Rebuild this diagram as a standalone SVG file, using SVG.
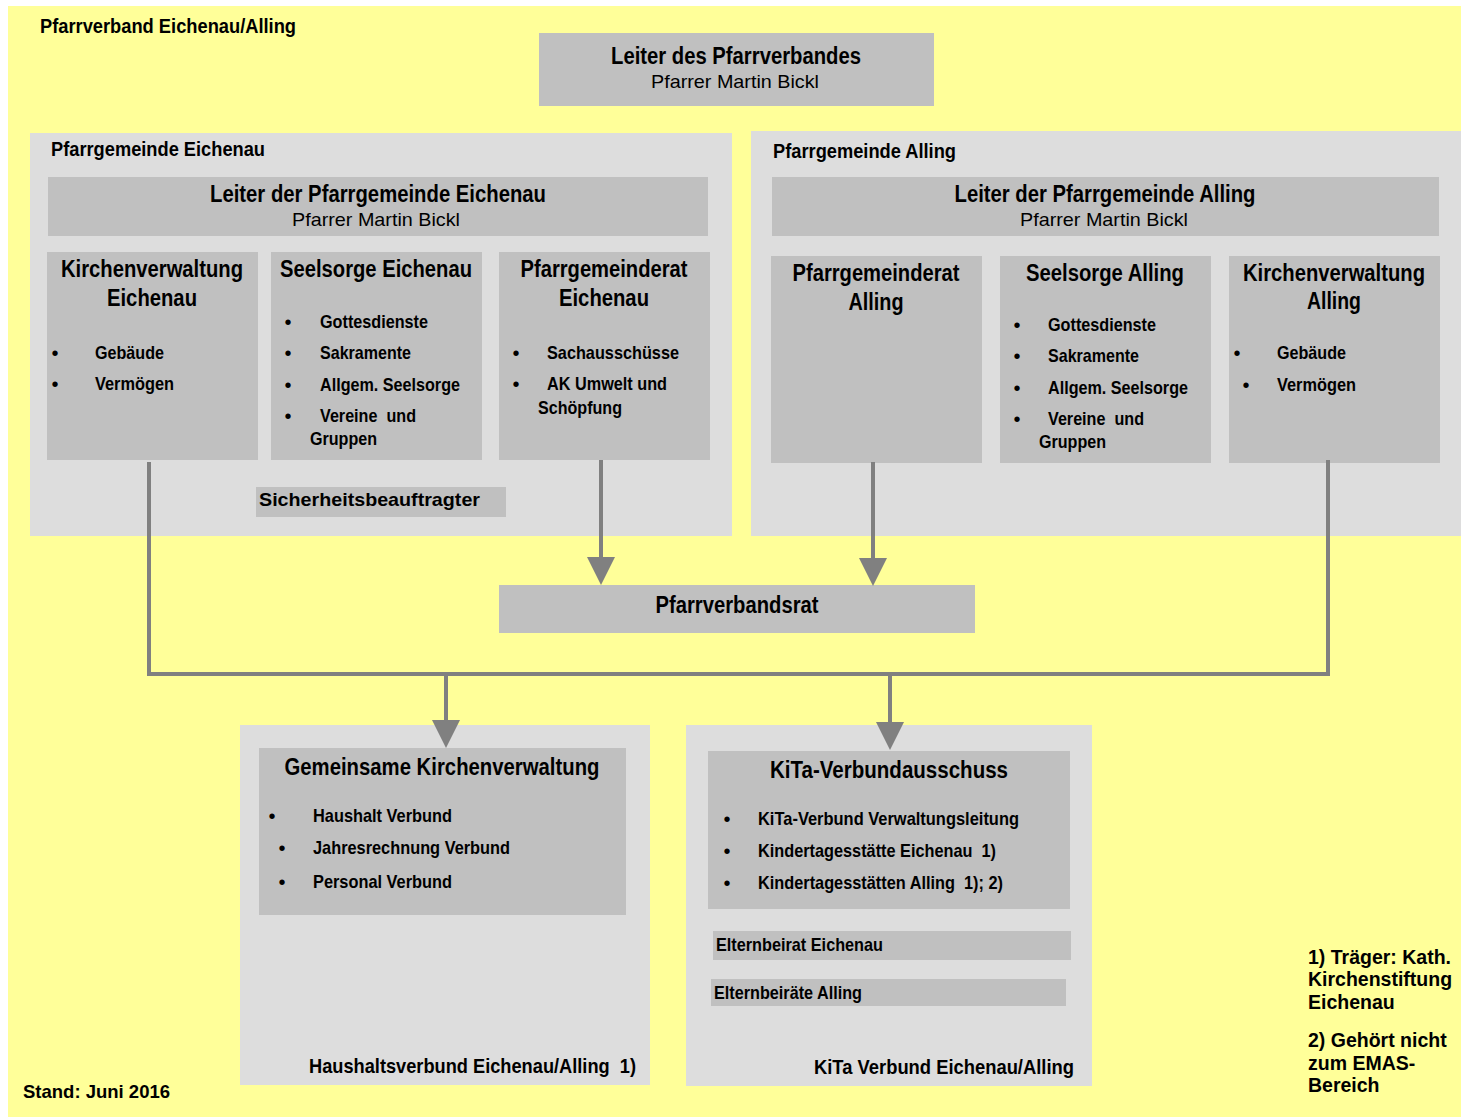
<svg xmlns="http://www.w3.org/2000/svg" width="1461" height="1117" viewBox="0 0 1461 1117">
<defs>
<style>
.bg{fill:#ffff99}
.cont{fill:#dddddd}
.box{fill:#c0c0c0}
text{font-family:"Liberation Sans Narrow","Arial Narrow","Liberation Sans",sans-serif;fill:#000}
.t{font-size:23px;font-weight:bold;text-anchor:middle}
.s{font-size:19px;text-anchor:middle}
.i{font-size:19px;font-weight:bold}
.h{font-size:20px;font-weight:bold}
.f{font-family:"Liberation Sans",Arial,sans-serif;font-size:19.5px;font-weight:bold}
.bl{font-family:"Liberation Sans",Arial,sans-serif;font-size:20px}
.ln{fill:none;stroke:#808080;stroke-width:4}
</style>
<marker id="ah" markerWidth="7" markerHeight="7" refX="0" refY="3.5" orient="auto" markerUnits="strokeWidth"><path d="M0,0 L7,3.5 L0,7 z" fill="#808080"/></marker>
</defs>
<rect class="bg" x="8" y="6" width="1453" height="1111"/>
<text class="h" x="40" y="33" textLength="256" lengthAdjust="spacingAndGlyphs">Pfarrverband Eichenau/Alling</text>

<g id="leiter-verband">
<rect class="box" x="539" y="33" width="395" height="73"/>
<text class="t" x="736" y="64" textLength="250" lengthAdjust="spacingAndGlyphs">Leiter des Pfarrverbandes</text>
<text class="s" x="735" y="88" textLength="168" lengthAdjust="spacingAndGlyphs">Pfarrer Martin Bickl</text>
</g>

<g id="pg-eichenau">
<rect class="cont" x="30" y="133" width="702" height="403"/>
<text class="h" x="51" y="156" textLength="214" lengthAdjust="spacingAndGlyphs">Pfarrgemeinde Eichenau</text>
</g>
<g id="pg-alling">
<rect class="cont" x="751" y="131" width="710" height="405"/>
<text class="h" x="773" y="158" textLength="183" lengthAdjust="spacingAndGlyphs">Pfarrgemeinde Alling</text>
</g>

<g id="leiter-eichenau">
<rect class="box" x="48" y="177" width="660" height="59"/>
<text class="t" x="378" y="202" textLength="336" lengthAdjust="spacingAndGlyphs">Leiter der Pfarrgemeinde Eichenau</text>
<text class="s" x="376" y="226" textLength="168" lengthAdjust="spacingAndGlyphs">Pfarrer Martin Bickl</text>
</g>
<g id="leiter-alling">
<rect class="box" x="772" y="177" width="667" height="59"/>
<text class="t" x="1105" y="202" textLength="301" lengthAdjust="spacingAndGlyphs">Leiter der Pfarrgemeinde Alling</text>
<text class="s" x="1104" y="226" textLength="168" lengthAdjust="spacingAndGlyphs">Pfarrer Martin Bickl</text>
</g>

<g id="kv-eichenau">
<rect class="box" x="47" y="252" width="211" height="208"/>
<text class="t" x="152" y="277" textLength="182" lengthAdjust="spacingAndGlyphs">Kirchenverwaltung</text>
<text class="t" x="152" y="306" textLength="90" lengthAdjust="spacingAndGlyphs">Eichenau</text>
<text class="bl" x="51.5" y="360">•</text><text class="i" x="95" y="359" textLength="69" lengthAdjust="spacingAndGlyphs">Gebäude</text>
<text class="bl" x="51.5" y="391">•</text><text class="i" x="95" y="390" textLength="79" lengthAdjust="spacingAndGlyphs">Vermögen</text>
</g>
<g id="seelsorge-eichenau">
<rect class="box" x="271" y="252" width="211" height="208"/>
<text class="t" x="376" y="277" textLength="192" lengthAdjust="spacingAndGlyphs">Seelsorge Eichenau</text>
<text class="bl" x="284.5" y="329">•</text><text class="i" x="320" y="328" textLength="108" lengthAdjust="spacingAndGlyphs">Gottesdienste</text>
<text class="bl" x="284.5" y="360">•</text><text class="i" x="320" y="359" textLength="91" lengthAdjust="spacingAndGlyphs">Sakramente</text>
<text class="bl" x="284.5" y="392">•</text><text class="i" x="320" y="391" textLength="140" lengthAdjust="spacingAndGlyphs">Allgem. Seelsorge</text>
<text class="bl" x="284.5" y="423">•</text><text class="i" x="320" y="422" textLength="96" lengthAdjust="spacingAndGlyphs" xml:space="preserve">Vereine  und</text>
<text class="i" x="310" y="445" textLength="67" lengthAdjust="spacingAndGlyphs">Gruppen</text>
</g>
<g id="pgr-eichenau">
<rect class="box" x="499" y="252" width="211" height="208"/>
<text class="t" x="604" y="277" textLength="167" lengthAdjust="spacingAndGlyphs">Pfarrgemeinderat</text>
<text class="t" x="604" y="306" textLength="90" lengthAdjust="spacingAndGlyphs">Eichenau</text>
<text class="bl" x="512.5" y="360">•</text><text class="i" x="547" y="359" textLength="132" lengthAdjust="spacingAndGlyphs">Sachausschüsse</text>
<text class="bl" x="512.5" y="391">•</text><text class="i" x="547" y="390" textLength="120" lengthAdjust="spacingAndGlyphs">AK Umwelt und</text>
<text class="i" x="538" y="414" textLength="84" lengthAdjust="spacingAndGlyphs">Schöpfung</text>
</g>
<g id="sicherheit">
<rect class="box" x="256" y="487" width="250" height="30"/>
<text class="i" x="259" y="506" textLength="221" lengthAdjust="spacingAndGlyphs">Sicherheitsbeauftragter</text>
</g>

<g id="pgr-alling">
<rect class="box" x="771" y="256" width="211" height="207"/>
<text class="t" x="876" y="281" textLength="167" lengthAdjust="spacingAndGlyphs">Pfarrgemeinderat</text>
<text class="t" x="876" y="310" textLength="55" lengthAdjust="spacingAndGlyphs">Alling</text>
</g>
<g id="seelsorge-alling">
<rect class="box" x="1000" y="256" width="211" height="207"/>
<text class="t" x="1105" y="281" textLength="158" lengthAdjust="spacingAndGlyphs">Seelsorge Alling</text>
<text class="bl" x="1013.5" y="332">•</text><text class="i" x="1048" y="331" textLength="108" lengthAdjust="spacingAndGlyphs">Gottesdienste</text>
<text class="bl" x="1013.5" y="363">•</text><text class="i" x="1048" y="362" textLength="91" lengthAdjust="spacingAndGlyphs">Sakramente</text>
<text class="bl" x="1013.5" y="395">•</text><text class="i" x="1048" y="394" textLength="140" lengthAdjust="spacingAndGlyphs">Allgem. Seelsorge</text>
<text class="bl" x="1013.5" y="426">•</text><text class="i" x="1048" y="425" textLength="96" lengthAdjust="spacingAndGlyphs" xml:space="preserve">Vereine  und</text>
<text class="i" x="1039" y="448" textLength="67" lengthAdjust="spacingAndGlyphs">Gruppen</text>
</g>
<g id="kv-alling">
<rect class="box" x="1229" y="256" width="211" height="207"/>
<text class="t" x="1334" y="281" textLength="182" lengthAdjust="spacingAndGlyphs">Kirchenverwaltung</text>
<text class="t" x="1334" y="309" textLength="54" lengthAdjust="spacingAndGlyphs">Alling</text>
<text class="bl" x="1233.5" y="360">•</text><text class="i" x="1277" y="359" textLength="69" lengthAdjust="spacingAndGlyphs">Gebäude</text>
<text class="bl" x="1242.5" y="392">•</text><text class="i" x="1277" y="391" textLength="79" lengthAdjust="spacingAndGlyphs">Vermögen</text>
</g>

<g id="pfarrverbandsrat">
<rect class="box" x="499" y="585" width="476" height="48"/>
<text class="t" x="737" y="613" textLength="163" lengthAdjust="spacingAndGlyphs">Pfarrverbandsrat</text>
</g>

<g id="haushaltsverbund">
<rect class="cont" x="240" y="725" width="410" height="360"/>
<rect class="box" x="259" y="748" width="367" height="167"/>
<text class="t" x="442" y="775" textLength="315" lengthAdjust="spacingAndGlyphs">Gemeinsame Kirchenverwaltung</text>
<text class="bl" x="268.5" y="823">•</text><text class="i" x="313" y="822" textLength="139" lengthAdjust="spacingAndGlyphs">Haushalt Verbund</text>
<text class="bl" x="278.5" y="855">•</text><text class="i" x="313" y="854" textLength="197" lengthAdjust="spacingAndGlyphs">Jahresrechnung Verbund</text>
<text class="bl" x="278.5" y="889">•</text><text class="i" x="313" y="888" textLength="139" lengthAdjust="spacingAndGlyphs">Personal Verbund</text>
<text class="i" style="font-size:21px" x="309" y="1073" textLength="327" lengthAdjust="spacingAndGlyphs" xml:space="preserve">Haushaltsverbund Eichenau/Alling  1)</text>
</g>

<g id="kita-verbund">
<rect class="cont" x="686" y="725" width="406" height="361"/>
<rect class="box" x="708" y="751" width="362" height="158"/>
<text class="t" x="889" y="778" textLength="238" lengthAdjust="spacingAndGlyphs">KiTa-Verbundausschuss</text>
<text class="bl" x="723.5" y="826">•</text><text class="i" x="758" y="825" textLength="261" lengthAdjust="spacingAndGlyphs">KiTa-Verbund Verwaltungsleitung</text>
<text class="bl" x="723.5" y="858">•</text><text class="i" x="758" y="857" textLength="238" lengthAdjust="spacingAndGlyphs" xml:space="preserve">Kindertagesstätte Eichenau  1)</text>
<text class="bl" x="723.5" y="890">•</text><text class="i" x="758" y="889" textLength="245" lengthAdjust="spacingAndGlyphs" xml:space="preserve">Kindertagesstätten Alling  1); 2)</text>
<rect class="box" x="713" y="931" width="358" height="29"/>
<text class="i" x="716" y="951" textLength="167" lengthAdjust="spacingAndGlyphs">Elternbeirat Eichenau</text>
<rect class="box" x="711" y="979" width="355" height="27"/>
<text class="i" x="714" y="999" textLength="148" lengthAdjust="spacingAndGlyphs">Elternbeiräte Alling</text>
<text class="i" style="font-size:21px" x="814" y="1074" textLength="260" lengthAdjust="spacingAndGlyphs">KiTa Verbund Eichenau/Alling</text>
</g>

<g id="connectors">
<path class="ln" d="M149,462 V674 H1328 V460"/>
<line class="ln" x1="601" y1="460" x2="601" y2="557" marker-end="url(#ah)"/>
<line class="ln" x1="873" y1="462" x2="873" y2="558" marker-end="url(#ah)"/>
<line class="ln" x1="446" y1="674" x2="446" y2="720" marker-end="url(#ah)"/>
<line class="ln" x1="890" y1="674" x2="890" y2="722" marker-end="url(#ah)"/>
</g>

<g id="notes">
<text class="f" x="1308" y="964">1) Träger: Kath.</text>
<text class="f" x="1308" y="986">Kirchenstiftung</text>
<text class="f" x="1308" y="1009">Eichenau</text>
<text class="f" x="1308" y="1047">2) Gehört nicht</text>
<text class="f" x="1308" y="1070">zum EMAS-</text>
<text class="f" x="1308" y="1092">Bereich</text>
<text class="f" style="font-size:18.5px" x="23" y="1098">Stand: Juni 2016</text>
</g>
</svg>
